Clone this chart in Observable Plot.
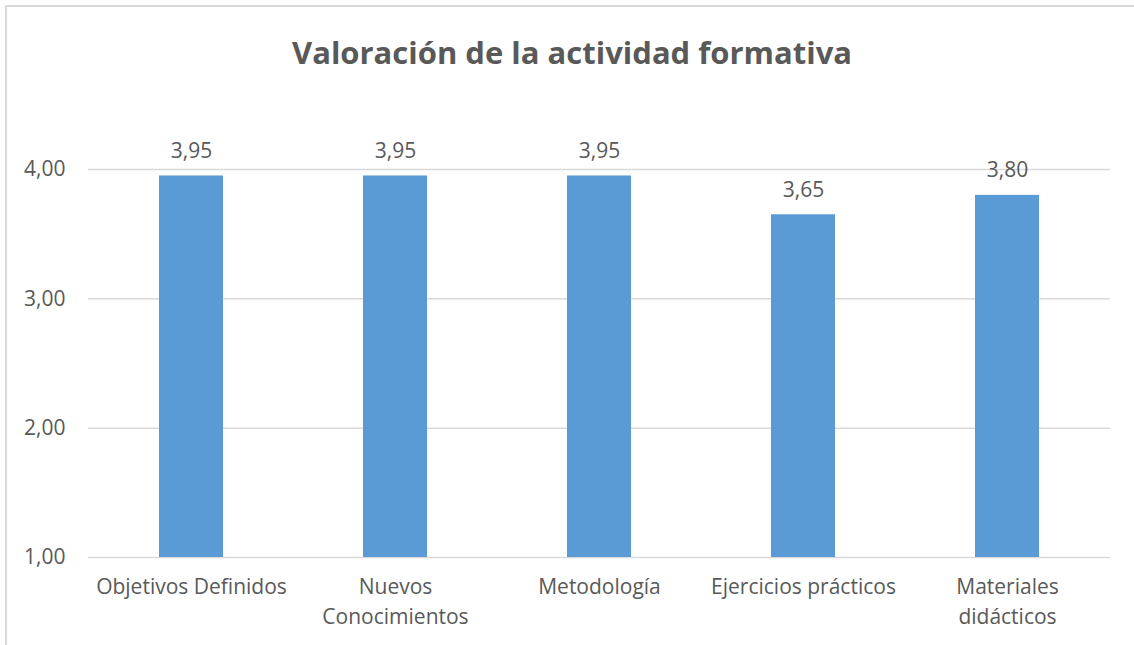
<!DOCTYPE html>
<html>
<head>
<meta charset="utf-8">
<script src="https://cdn.jsdelivr.net/npm/d3@7"></script>
<script src="https://cdn.jsdelivr.net/npm/@observablehq/plot@0.6"></script>
<style>
  html, body { margin: 0; padding: 0; background: #fff; overflow: hidden; width: 1134px; height: 645px; }
  #frame { position: absolute; left: 5px; top: 5px; width: 1200px; height: 700px;
           border-left: 2px solid #d9d9d9; border-top: 2px solid #d9d9d9; box-sizing: border-box; }
  #chart { position: absolute; left: 0; top: 0; width: 1134px; }
  #title { height: 100px; line-height: 100px; text-align: center;
           font-family: "Open Sans", sans-serif; font-weight: bold; font-size: 31px; color: #595959; }
  #title span { position: relative; left: 5px; top: 2px; }
  svg { display: block; }
</style>
</head>
<body>
<div id="frame"></div>
<div id="chart"><div id="title"><span>Valoración de la actividad formativa</span></div></div>
<script>
const categories = ["Objetivos Definidos", "Nuevos Conocimientos", "Metodología", "Ejercicios prácticos", "Materiales didácticos"];
const tickLabels = ["Objetivos Definidos", "Nuevos\nConocimientos", "Metodología", "Ejercicios prácticos", "Materiales\ndidácticos"];
const values = [3.95, 3.95, 3.95, 3.65, 3.80];
const yTicks = [1, 2, 3, 4];

const data = categories.map((c, i) => ({cat: c, value: values[i]}));
const fmt = v => d3.format(".2f")(v).replace(".", ",");
const labelOf = new Map(categories.map((c, i) => [c, tickLabels[i]]));

const textColor = "#595959";
const font = "Open Sans, sans-serif";

const chart = Plot.plot({
  width: 1134,
  height: 545,
  marginLeft: 88,
  marginRight: 24,
  marginTop: 69,
  marginBottom: 88,
  style: {fontFamily: font, color: textColor, background: "transparent"},
  x: {domain: categories, paddingInner: 0.687, paddingOuter: 0.3435, label: null},
  y: {domain: [1, 4], label: null},
  marks: [
    Plot.ruleY(yTicks, {stroke: "#d9d9d9", strokeWidth: 1.5}),
    Plot.barY(data, {x: "cat", y1: 1, y2: "value", fill: "#5b9bd5"}),
    Plot.text(data, {x: "cat", y: "value", text: d => fmt(d.value), dy: -25, fontSize: 21, fill: textColor}),
    Plot.axisY({ticks: yTicks, tickFormat: fmt, tickSize: 0, tickPadding: 23, fontSize: 21, fill: textColor, label: null}),
    Plot.axisX({tickFormat: d => labelOf.get(d), tickSize: 0, tickPadding: 15, fontSize: 21, lineHeight: 1.43, fill: textColor, label: null})
  ]
});
document.getElementById("chart").appendChild(chart);
</script>
</body>
</html>
